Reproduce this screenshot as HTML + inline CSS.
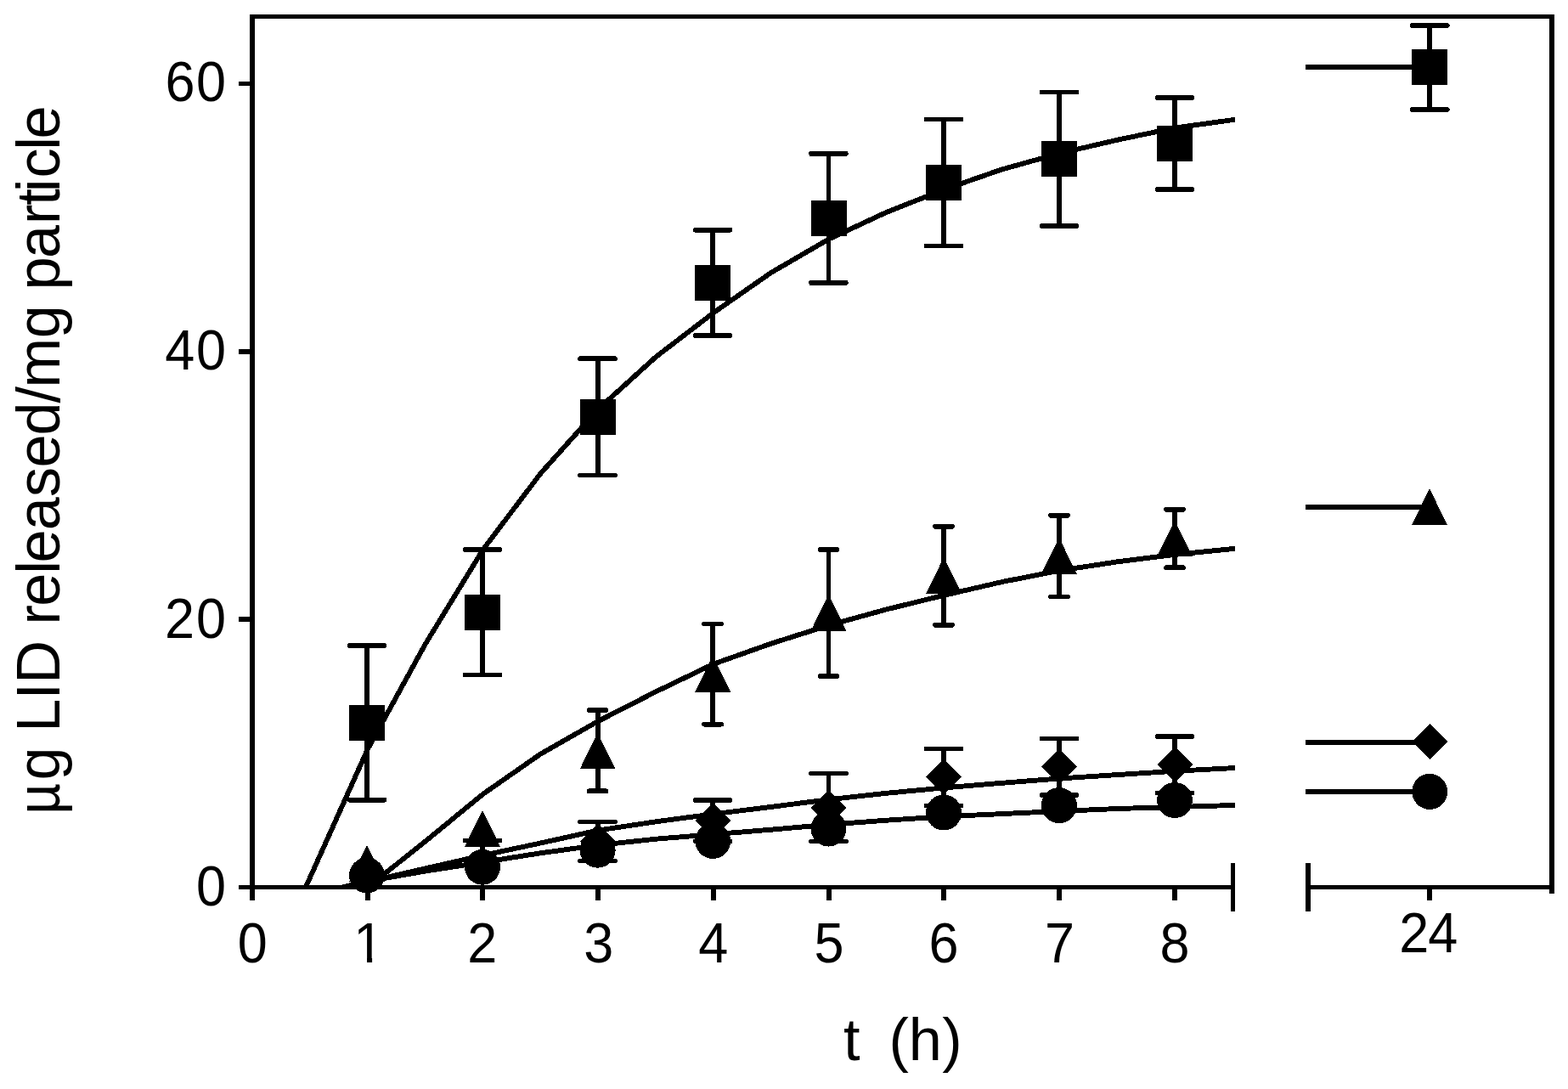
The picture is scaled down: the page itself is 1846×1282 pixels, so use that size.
<!DOCTYPE html>
<html lang="en"><head><meta charset="utf-8"><title>LID release</title>
<style>html,body{margin:0;padding:0;background:#fff;overflow:hidden}svg{display:block}text{font-family:"Liberation Sans",Arial,Helvetica,sans-serif;fill:#000;white-space:pre}</style></head><body>
<svg width="1846" height="1282" viewBox="0 0 1846 1282" shape-rendering="crispEdges">
<rect width="1846" height="1282" fill="#fff"/>
<clipPath id="cp"><rect x="297" y="19" width="1157" height="1028"/></clipPath>
<polyline clip-path="url(#cp)" points="359.9,1044.5 432.8,882.1 500.6,758.4 568.5,647.2 636.4,557.4 704.2,481.7 772.1,420.2 840.0,368.2 907.9,320.9 975.8,281.5 1043.6,249.9 1111.5,223.1 1179.4,199.5 1247.2,180.6 1315.1,164.8 1383.0,150.6 1450.9,141.2 1464.5,138.8" fill="none" stroke="#000" stroke-width="5.9" stroke-linejoin="round"/>
<polyline clip-path="url(#cp)" points="432.8,1044.5 500.6,990.6 568.5,934.9 636.4,887.6 704.2,849.0 772.1,814.3 840.0,781.7 907.9,757.6 975.8,736.1 1043.6,717.4 1111.5,700.8 1179.4,685.1 1247.2,671.7 1315.1,661.4 1383.0,652.9 1450.9,646.1 1464.5,644.9" fill="none" stroke="#000" stroke-width="5.9" stroke-linejoin="round"/>
<polyline clip-path="url(#cp)" points="402.9,1044.5 432.8,1038.0 500.6,1022.4 568.5,1007.0 636.4,992.5 704.2,977.5 772.1,967.3 840.0,958.3 907.9,949.9 975.8,941.2 1043.6,933.8 1111.5,927.4 1179.4,921.8 1247.2,916.5 1315.1,912.1 1383.0,907.8 1450.9,904.2 1464.5,903.4" fill="none" stroke="#000" stroke-width="5.9" stroke-linejoin="round"/>
<polyline clip-path="url(#cp)" points="402.9,1044.5 432.8,1037.4 500.6,1025.6 568.5,1015.0 636.4,1004.3 704.2,995.0 772.1,987.7 840.0,982.2 907.9,976.7 975.8,970.7 1043.6,965.7 1111.5,961.3 1179.4,958.1 1247.2,955.0 1315.1,952.0 1383.0,950.1 1450.9,948.0 1464.5,947.5" fill="none" stroke="#000" stroke-width="5.9" stroke-linejoin="round"/>
<line x1="1537.1" y1="79" x2="1683" y2="79" stroke="#000" stroke-width="6"/>
<line x1="1537.1" y1="597" x2="1683" y2="597" stroke="#000" stroke-width="6"/>
<line x1="1537.1" y1="874" x2="1683" y2="874" stroke="#000" stroke-width="6"/>
<line x1="1537.1" y1="932.3" x2="1683" y2="932.3" stroke="#000" stroke-width="6"/>
<path d="M432.0 760.0V941.7" stroke="#000" stroke-width="5.8" fill="none"/>
<path d="M411.6 760.0H452.4M411.6 941.7H452.4" stroke="#000" stroke-width="5.8" stroke-linecap="round" fill="none"/>
<rect x="411.0" y="830.0" width="42" height="42" fill="#000"/>
<path d="M568.0 647.0V794.5" stroke="#000" stroke-width="5.8" fill="none"/>
<path d="M547.6 647.0H588.4M547.6 794.5H588.4" stroke="#000" stroke-width="5.8" stroke-linecap="round" fill="none"/>
<rect x="547.0" y="700.0" width="42" height="42" fill="#000"/>
<path d="M703.6 422.2V559.4" stroke="#000" stroke-width="5.8" fill="none"/>
<path d="M683.2 422.2H724.0M683.2 559.4H724.0" stroke="#000" stroke-width="5.8" stroke-linecap="round" fill="none"/>
<rect x="682.6" y="469.8" width="42" height="42" fill="#000"/>
<path d="M839.2 270.7V395.0" stroke="#000" stroke-width="5.8" fill="none"/>
<path d="M818.8 270.7H859.6M818.8 395.0H859.6" stroke="#000" stroke-width="5.8" stroke-linecap="round" fill="none"/>
<rect x="818.2" y="312.0" width="42" height="42" fill="#000"/>
<path d="M975.5 181.0V333.0" stroke="#000" stroke-width="5.8" fill="none"/>
<path d="M955.1 181.0H995.9M955.1 333.0H995.9" stroke="#000" stroke-width="5.8" stroke-linecap="round" fill="none"/>
<rect x="954.5" y="236.0" width="42" height="42" fill="#000"/>
<path d="M1111.1 140.5V289.5" stroke="#000" stroke-width="5.8" fill="none"/>
<path d="M1090.7 140.5H1131.5M1090.7 289.5H1131.5" stroke="#000" stroke-width="5.8" stroke-linecap="round" fill="none"/>
<rect x="1090.1" y="194.0" width="42" height="42" fill="#000"/>
<path d="M1246.9 108.5V266.2" stroke="#000" stroke-width="5.8" fill="none"/>
<path d="M1226.5 108.5H1267.3M1226.5 266.2H1267.3" stroke="#000" stroke-width="5.8" stroke-linecap="round" fill="none"/>
<rect x="1225.9" y="166.0" width="42" height="42" fill="#000"/>
<path d="M1383.0 115.0V223.2" stroke="#000" stroke-width="5.8" fill="none"/>
<path d="M1362.6 115.0H1403.4M1362.6 223.2H1403.4" stroke="#000" stroke-width="5.8" stroke-linecap="round" fill="none"/>
<rect x="1362.0" y="147.9" width="42" height="42" fill="#000"/>
<polygon points="432.0,995.2 453.0,1037.7 411.0,1037.7" fill="#000"/>
<polygon points="568.0,954.1 589.0,996.6 547.0,996.6" fill="#000"/>
<path d="M703.6 836.1V931.3" stroke="#000" stroke-width="5.8" fill="none"/>
<path d="M693.6 836.1H713.6M693.6 931.3H713.6" stroke="#000" stroke-width="5.8" stroke-linecap="round" fill="none"/>
<polygon points="703.6,862.9 724.6,905.4 682.6,905.4" fill="#000"/>
<path d="M839.2 734.5V852.6" stroke="#000" stroke-width="5.8" fill="none"/>
<path d="M829.2 734.5H849.2M829.2 852.6H849.2" stroke="#000" stroke-width="5.8" stroke-linecap="round" fill="none"/>
<polygon points="839.2,772.0 860.2,814.5 818.2,814.5" fill="#000"/>
<path d="M975.5 647.1V796.1" stroke="#000" stroke-width="5.8" fill="none"/>
<path d="M965.5 647.1H985.5M965.5 796.1H985.5" stroke="#000" stroke-width="5.8" stroke-linecap="round" fill="none"/>
<polygon points="975.5,700.1 996.5,742.6 954.5,742.6" fill="#000"/>
<path d="M1111.1 619.7V735.7" stroke="#000" stroke-width="5.8" fill="none"/>
<path d="M1101.1 619.7H1121.1M1101.1 735.7H1121.1" stroke="#000" stroke-width="5.8" stroke-linecap="round" fill="none"/>
<polygon points="1111.1,656.2 1132.1,698.7 1090.1,698.7" fill="#000"/>
<path d="M1246.9 606.7V702.5" stroke="#000" stroke-width="5.8" fill="none"/>
<path d="M1236.9 606.7H1256.9M1236.9 702.5H1256.9" stroke="#000" stroke-width="5.8" stroke-linecap="round" fill="none"/>
<polygon points="1246.9,633.1 1267.9,675.6 1225.9,675.6" fill="#000"/>
<path d="M1383.0 599.7V668.2" stroke="#000" stroke-width="5.8" fill="none"/>
<path d="M1373.0 599.7H1393.0M1373.0 668.2H1393.0" stroke="#000" stroke-width="5.8" stroke-linecap="round" fill="none"/>
<polygon points="1383.0,612.5 1404.0,655.0 1362.0,655.0" fill="#000"/>
<polygon points="432.0,1009.0 453.0,1030.0 432.0,1051.0 411.0,1030.0" fill="#000"/>
<path d="M568.0 989.5V1020.7" stroke="#000" stroke-width="5.8" fill="none"/>
<path d="M547.6 989.5H588.4" stroke="#000" stroke-width="5.8" stroke-linecap="round" fill="none"/>
<polygon points="568.0,999.7 589.0,1020.7 568.0,1041.7 547.0,1020.7" fill="#000"/>
<path d="M703.6 967.5V1013.4" stroke="#000" stroke-width="5.8" fill="none"/>
<path d="M683.2 967.5H724.0M683.2 1013.4H724.0" stroke="#000" stroke-width="5.8" stroke-linecap="round" fill="none"/>
<polygon points="703.6,969.5 724.6,990.5 703.6,1011.5 682.6,990.5" fill="#000"/>
<path d="M839.2 942.0V990.4" stroke="#000" stroke-width="5.8" fill="none"/>
<path d="M818.8 942.0H859.6M818.8 990.4H859.6" stroke="#000" stroke-width="5.8" stroke-linecap="round" fill="none"/>
<polygon points="839.2,945.2 860.2,966.2 839.2,987.2 818.2,966.2" fill="#000"/>
<path d="M975.5 910.5V990.4" stroke="#000" stroke-width="5.8" fill="none"/>
<path d="M955.1 910.5H995.9M955.1 990.4H995.9" stroke="#000" stroke-width="5.8" stroke-linecap="round" fill="none"/>
<polygon points="975.5,930.0 996.5,951.0 975.5,972.0 954.5,951.0" fill="#000"/>
<path d="M1111.1 881.5V948.4" stroke="#000" stroke-width="5.8" fill="none"/>
<path d="M1090.7 881.5H1131.5M1090.7 948.4H1131.5" stroke="#000" stroke-width="5.8" stroke-linecap="round" fill="none"/>
<polygon points="1111.1,893.8 1132.1,914.8 1111.1,935.8 1090.1,914.8" fill="#000"/>
<path d="M1246.9 869.5V936.0" stroke="#000" stroke-width="5.8" fill="none"/>
<path d="M1226.5 869.5H1267.3M1226.5 936.0H1267.3" stroke="#000" stroke-width="5.8" stroke-linecap="round" fill="none"/>
<polygon points="1246.9,881.8 1267.9,902.8 1246.9,923.8 1225.9,902.8" fill="#000"/>
<path d="M1383.0 867.0V933.6" stroke="#000" stroke-width="5.8" fill="none"/>
<path d="M1362.6 867.0H1403.4M1362.6 933.6H1403.4" stroke="#000" stroke-width="5.8" stroke-linecap="round" fill="none"/>
<polygon points="1383.0,879.0 1404.0,900.0 1383.0,921.0 1362.0,900.0" fill="#000"/>
<circle cx="432.0" cy="1030.5" r="21" fill="#000"/>
<circle cx="568.0" cy="1020.7" r="21" fill="#000"/>
<circle cx="703.6" cy="1000.7" r="21" fill="#000"/>
<circle cx="839.2" cy="989.9" r="21" fill="#000"/>
<circle cx="975.5" cy="975.5" r="21" fill="#000"/>
<circle cx="1111.1" cy="956.5" r="21" fill="#000"/>
<circle cx="1246.9" cy="948.1" r="21" fill="#000"/>
<circle cx="1383.0" cy="942.0" r="21" fill="#000"/>
<path d="M1683.3 30.0V129.0" stroke="#000" stroke-width="5.8" fill="none"/>
<path d="M1662.9 30.0H1703.7M1662.9 129.0H1703.7" stroke="#000" stroke-width="5.8" stroke-linecap="round" fill="none"/>
<rect x="1662.0" y="58.0" width="42" height="42" fill="#000"/>
<polygon points="1683.0,575.3 1704.0,617.8 1662.0,617.8" fill="#000"/>
<polygon points="1683.6,851.8 1704.6,872.8 1683.6,893.8 1662.6,872.8" fill="#000"/>
<circle cx="1683.2" cy="931.9" r="21" fill="#000"/>
<g stroke="#000" fill="none">
<path d="M297 1060V17M1827 17V1051.8" stroke-width="6"/>
<path d="M294 19.5H1830" stroke-width="5"/>
<path d="M281 1044.5H1451.3M1540 1044.5H1829.8" stroke-width="5"/>
<path d="M281 729H297" stroke-width="6"/>
<path d="M281 414H297" stroke-width="6"/>
<path d="M281 98.5H297" stroke-width="5"/>
<path d="M433 1044.5V1060" stroke-width="6"/>
<path d="M568 1044.5V1060" stroke-width="6"/>
<path d="M704 1044.5V1060" stroke-width="6"/>
<path d="M840 1044.5V1060" stroke-width="6"/>
<path d="M976 1044.5V1060" stroke-width="6"/>
<path d="M1111 1044.5V1060" stroke-width="6"/>
<path d="M1247 1044.5V1060" stroke-width="6"/>
<path d="M1383 1044.5V1060" stroke-width="6"/>
<path d="M1683 1044.5V1060" stroke-width="6"/>
<path d="M1451.4 1016V1073M1540.1 1016V1073" stroke-width="5.6"/>
</g>
<text transform="translate(0 119.4) scale(1 1.051)" x="194.4 231.1" y="0" font-size="63">60</text>
<text transform="translate(0 435.3) scale(1 1.051)" x="194.2 231.0" y="0" font-size="63">40</text>
<text transform="translate(0 750.6) scale(1 1.051)" x="194.1 231.0" y="0" font-size="63">20</text>
<text transform="translate(0 1065.9) scale(1 1.051)" x="231.1" y="0" font-size="63">0</text>
<clipPath id="c1"><path d="M400 1070H470V1127.4H438.1V1140H432V1127.4H400Z"/></clipPath>
<text transform="translate(0 1132.9) scale(1 1.051)" x="279.7" y="0" font-size="63">0</text>
<g clip-path="url(#c1)">
<text transform="translate(0 1132.9) scale(1 1.051)" x="416.3" y="0" font-size="63">1</text>
</g>
<text transform="translate(0 1132.9) scale(1 1.051)" x="550.3" y="0" font-size="63">2</text>
<text transform="translate(0 1132.9) scale(1 1.051)" x="687.3" y="0" font-size="63">3</text>
<text transform="translate(0 1132.9) scale(1 1.051)" x="822.2" y="0" font-size="63">4</text>
<text transform="translate(0 1132.9) scale(1 1.051)" x="958.4" y="0" font-size="63">5</text>
<text transform="translate(0 1132.9) scale(1 1.051)" x="1093.4" y="0" font-size="63">6</text>
<text transform="translate(0 1132.9) scale(1 1.051)" x="1230.1" y="0" font-size="63">7</text>
<text transform="translate(0 1132.9) scale(1 1.051)" x="1365.6" y="0" font-size="63">8</text>
<text transform="translate(0 1120.8) scale(1 1.051)" x="1647.2 1681.3" y="0" font-size="63">24</text>
<text transform="translate(0 1248.0) scale(1 1.0)" x="993.0 1014.1 1046.5 1069.8 1109.2" y="0" font-size="70.3">t (h)</text>
<text transform="translate(70 0) rotate(-90) scale(1 1.025)" y="0" font-size="70.3"><tspan x="-958.4" textLength="36.4" lengthAdjust="spacingAndGlyphs">µ</tspan><tspan x="-918.6 -897.5 -861.7 -823.5 -804.8 -783.7 -735.4 -713.7 -675.7 -662.5 -624.2 -584.9 -550.5 -512.4 -474.6 -456.4 -398.3 -377.2 -341.4 -304.0 -263.9 -241.8 -226.3 -209.6 -176.7 -163.4">g LID released/mg particle</tspan></text>
</svg></body></html>
